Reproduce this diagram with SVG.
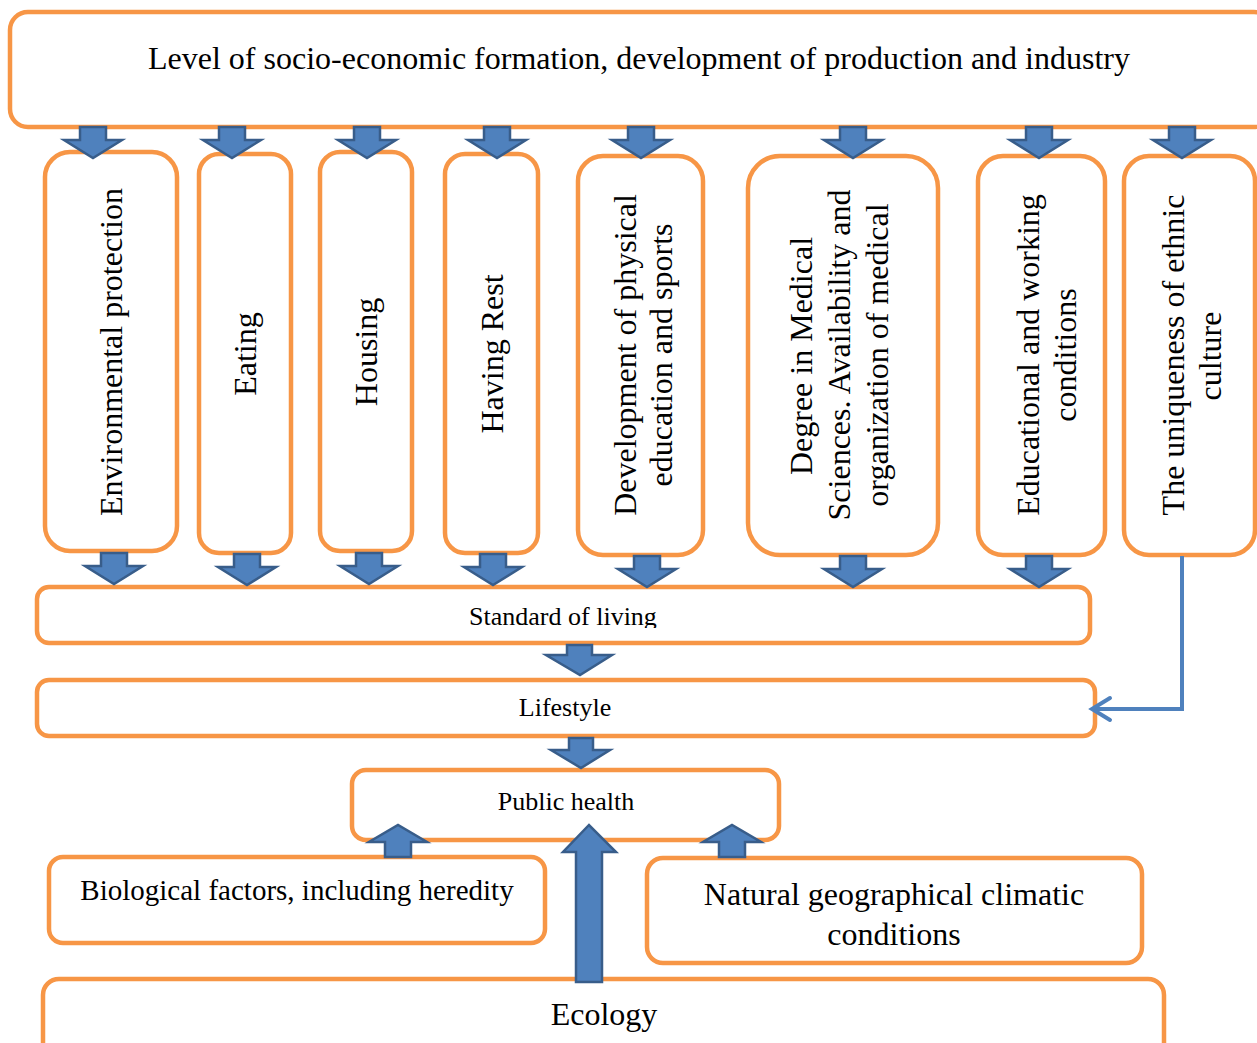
<svg xmlns="http://www.w3.org/2000/svg" xmlns:xlink="http://www.w3.org/1999/xlink" width="1257" height="1043" viewBox="0 0 1257 1043">
<style>
.box{fill:#fff;stroke:#F79646;stroke-width:4.5}
.t{font-family:"Liberation Serif","Times New Roman",serif;fill:#000;text-anchor:middle}
.arr{fill:#4F81BD;stroke:#385D8A;stroke-width:2.5;stroke-linejoin:miter}
.con{fill:none;stroke:#4F81BD;stroke-width:4}
</style>
<defs>
<path id="dn" class="arr" d="M-13,0 H13 V13 H29 L0,31 L-29,13 H-13 Z"/>
<path id="up" class="arr" d="M-13,0 H13 V-15 H29 L0,-32 L-29,-15 H-13 Z"/>
<clipPath id="clipStd"><rect x="37" y="587" width="1053" height="41"/></clipPath>
</defs>

<g id="n-top">
<rect class="box" x="10" y="12" width="1262" height="115" rx="18"/>
<text class="t" x="639" y="69" font-size="32">Level of socio-economic formation, development of production and industry</text>
</g>

<g id="n-env">
<rect class="box" x="45" y="152" width="132" height="399" rx="25"/>
<text class="t" font-size="32" transform="translate(122,352) rotate(-90)">Environmental protection</text>
</g>
<g id="n-eating">
<rect class="box" x="199" y="154" width="92" height="399" rx="20"/>
<text class="t" font-size="32" transform="translate(256,354) rotate(-90)">Eating</text>
</g>
<g id="n-housing">
<rect class="box" x="320" y="152" width="92" height="399" rx="20"/>
<text class="t" font-size="32" transform="translate(377,352) rotate(-90)">Housing</text>
</g>
<g id="n-rest">
<rect class="box" x="445" y="154" width="93" height="399" rx="20"/>
<text class="t" font-size="32" transform="translate(503,354) rotate(-90)">Having Rest</text>
</g>
<g id="n-sport">
<rect class="box" x="578" y="156" width="125" height="399" rx="25"/>
<text class="t" font-size="32" transform="translate(636,355) rotate(-90)">Development of physical</text>
<text class="t" font-size="32" transform="translate(672,355) rotate(-90)">education and sports</text>
</g>
<g id="n-medical">
<rect class="box" x="748" y="156" width="190" height="399" rx="32"/>
<text class="t" font-size="32" transform="translate(812,356) rotate(-90)">Degree in Medical</text>
<text class="t" font-size="32" transform="translate(850,355) rotate(-90)">Sciences. Availability and</text>
<text class="t" font-size="32" transform="translate(888,355) rotate(-90)">organization of medical</text>
</g>
<g id="n-work">
<rect class="box" x="978" y="156" width="127" height="399" rx="25"/>
<text class="t" font-size="32" transform="translate(1039,355) rotate(-90)">Educational and working</text>
<text class="t" font-size="32" transform="translate(1076,355) rotate(-90)">conditions</text>
</g>
<g id="n-ethnic">
<rect class="box" x="1124" y="156" width="131" height="399" rx="25"/>
<text class="t" font-size="32" transform="translate(1184,355) rotate(-90)">The uniqueness of ethnic</text>
<text class="t" font-size="32" transform="translate(1221,356) rotate(-90)">culture</text>
</g>

<g id="n-standard">
<rect class="box" x="37" y="587" width="1053" height="56" rx="12"/>
<text class="t" x="563" y="625" font-size="26" clip-path="url(#clipStd)">Standard of living</text>
</g>
<g id="n-lifestyle">
<rect class="box" x="37" y="680" width="1058" height="56" rx="12"/>
<text class="t" x="565" y="716" font-size="26">Lifestyle</text>
</g>
<g id="n-health">
<rect class="box" x="352" y="770" width="427" height="70" rx="14"/>
<text class="t" x="566" y="810" font-size="26">Public health</text>
</g>
<g id="n-bio">
<rect class="box" x="49" y="857" width="496" height="86" rx="14"/>
<text class="t" x="297" y="900" font-size="29">Biological factors, including heredity</text>
</g>
<g id="n-natural">
<rect class="box" x="647" y="858" width="495" height="105" rx="16"/>
<text class="t" x="894" y="905" font-size="32">Natural geographical climatic</text>
<text class="t" x="894" y="945" font-size="32">conditions</text>
</g>
<g id="n-ecology">
<rect class="box" x="43" y="979" width="1121" height="90" rx="16"/>
<text class="t" x="604" y="1025" font-size="32">Ecology</text>
</g>

<g id="connectors">
<use xlink:href="#dn" x="93" y="127"/>
<use xlink:href="#dn" x="232" y="127"/>
<use xlink:href="#dn" x="367" y="127"/>
<use xlink:href="#dn" x="497" y="127"/>
<use xlink:href="#dn" x="641" y="127"/>
<use xlink:href="#dn" x="853" y="127"/>
<use xlink:href="#dn" x="1039" y="127"/>
<use xlink:href="#dn" x="1182" y="127"/>

<use xlink:href="#dn" x="114" y="553"/>
<use xlink:href="#dn" x="247" y="554"/>
<use xlink:href="#dn" x="369" y="553"/>
<use xlink:href="#dn" x="493" y="554"/>
<use xlink:href="#dn" x="647" y="556"/>
<use xlink:href="#dn" x="853" y="556"/>
<use xlink:href="#dn" x="1039" y="556"/>

<path class="arr" d="M567,645 H592 V655 H612 L580,675 L546,655 H567 Z"/>
<path class="arr" d="M569,738 H593 V750 H610 L581,768 L551,750 H569 Z"/>

<use xlink:href="#up" x="398" y="857"/>
<use xlink:href="#up" x="732" y="857"/>
<path class="arr" d="M576,982 H602 V852 H616 L589,825 L563,852 H576 Z"/>

<path class="con" d="M1182,556 V709 H1094"/>
<path class="con" d="M1110,698 L1092,709 L1110,720" stroke-linecap="round"/>
</g>
</svg>
